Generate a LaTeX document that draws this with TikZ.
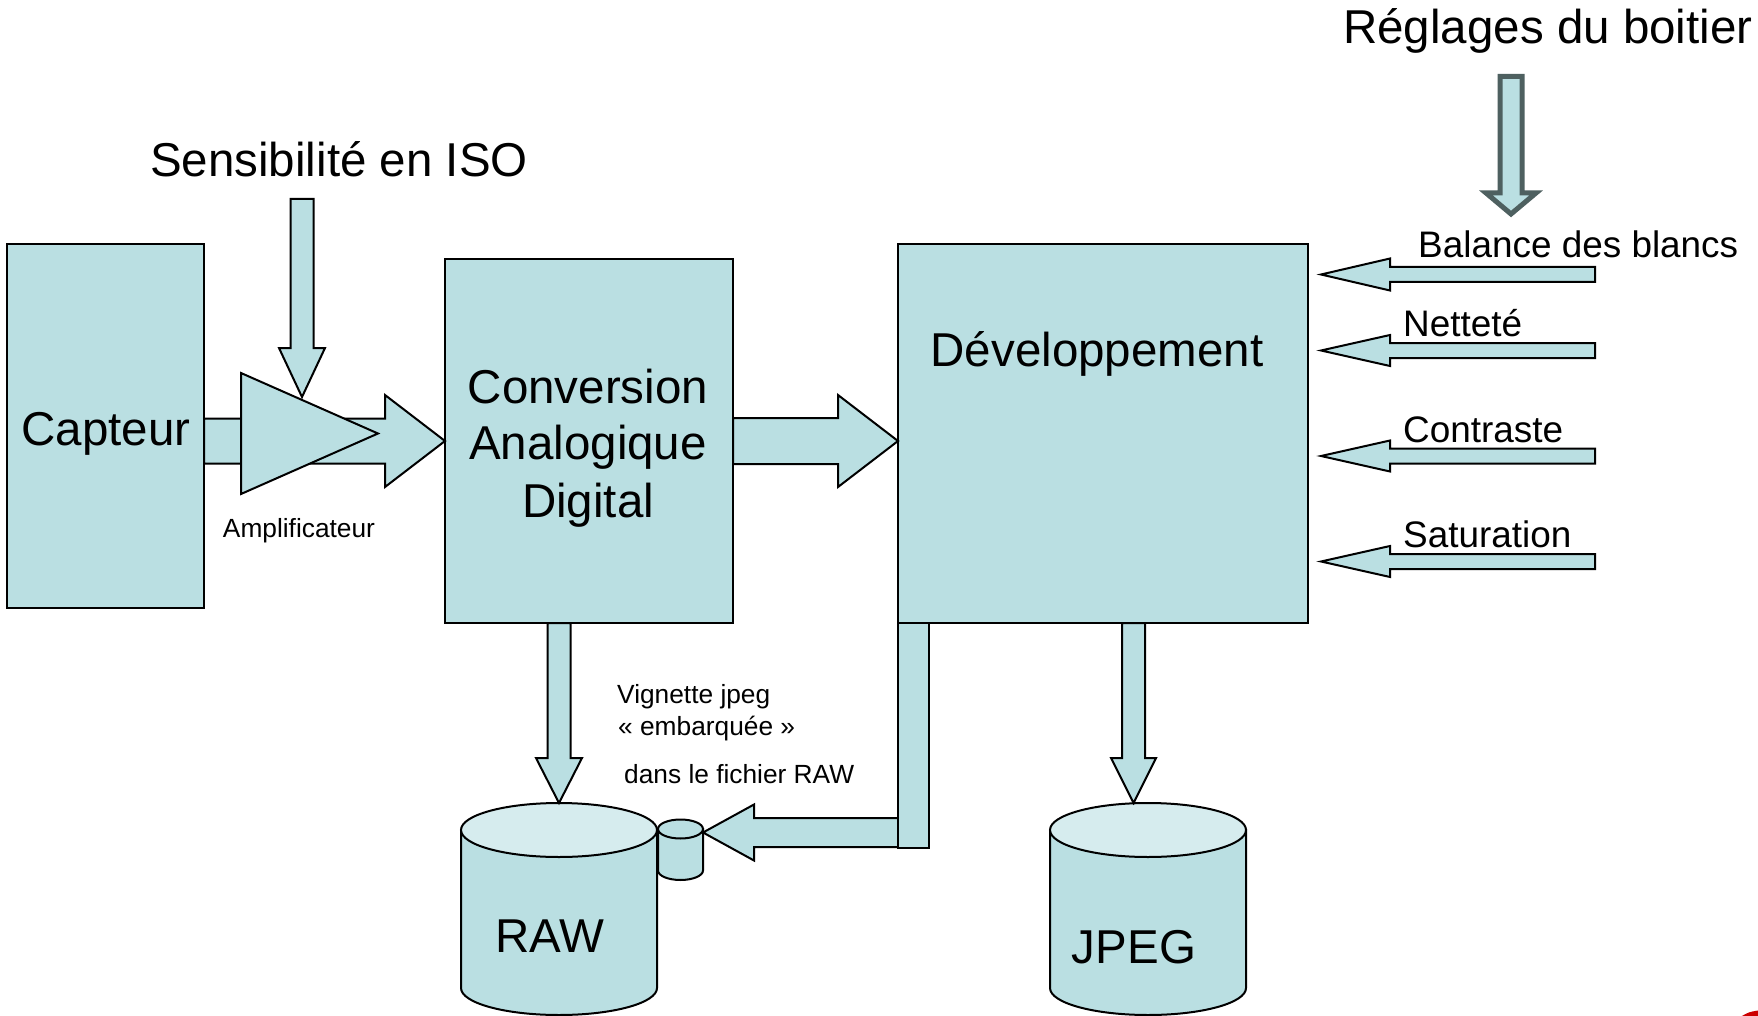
\documentclass[tikz,border=0pt]{standalone}
\usepackage{fontspec}
\setmainfont{Liberation Sans}
\usetikzlibrary{calc}

\definecolor{cfill}{RGB}{186,223,226}
\definecolor{ctop}{RGB}{214,236,238}
\definecolor{cslate}{RGB}{78,96,96}
\definecolor{cred}{RGB}{204,0,0}

\tikzset{
  box/.style={draw=black, fill=cfill, line width=2pt, rectangle, inner sep=0pt, outer sep=0pt},
  flow/.style={draw=black, fill=cfill, line width=2pt, line join=miter},
  setting/.style={draw=cslate, fill=cfill, line width=5pt, line join=miter},
  txt/.style={inner sep=0pt, anchor=base},
  txtw/.style={inner sep=0pt, anchor=base west},
  big/.style={font=\fontsize{47.5}{57}\selectfont},
  mid/.style={font=\fontsize{36.9}{44}\selectfont},
  small/.style={font=\fontsize{26.3}{32}\selectfont},
}

% Block arrow: [style]{tail}{tip}{shaft half width}{head half width}{head length}
\newcommand{\blockarrow}[6][]{%
  \draw[flow,#1] let \p1=(#2), \p2=(#3),
      \n1={veclen(\x2-\x1,\y2-\y1)},
      \n2={(\x2-\x1)/\n1}, \n3={(\y2-\y1)/\n1}
    in (\p2)
    -- ({\x2-#6*\n2-#5*\n3},{\y2-#6*\n3+#5*\n2})
    -- ({\x2-#6*\n2-#4*\n3},{\y2-#6*\n3+#4*\n2})
    -- ({\x1-#4*\n3},{\y1+#4*\n2})
    -- ({\x1+#4*\n3},{\y1-#4*\n2})
    -- ({\x2-#6*\n2+#4*\n3},{\y2-#6*\n3-#4*\n2})
    -- ({\x2-#6*\n2+#5*\n3},{\y2-#6*\n3-#5*\n2})
    -- cycle;}

% Storage drum: {centre x}{top centre y}{bottom centre y}{x radius}{y radius}{lid colour}
\newcommand{\drum}[6]{%
  \filldraw[flow] (#1-#4,#2) -- (#1-#4,#3)
    arc[start angle=180, end angle=360, x radius=#4pt, y radius=#5pt]
    -- (#1+#4,#2) -- cycle;
  \filldraw[flow, fill=#6] (#1,#2) ellipse[x radius=#4pt, y radius=#5pt];}

\begin{document}
\begin{tikzpicture}[x=1pt, y=-1pt]
\fill[white] (0,0) rectangle (1758,1016);
\useasboundingbox (0,0) rectangle (1758,1016);

% processing blocks
\node[box, minimum width=197, minimum height=364] (capteur) at (105.5,426) {};
\node[box, minimum width=288, minimum height=364] (conv) at (589,441) {};
\node[box, minimum width=410, minimum height=379] (dev) at (1103,433.5) {};

% anchor points for the free arrow ends
\coordinate (isoTail) at (302,199);
\coordinate (isoTip) at (302,397);
\coordinate (rawTop) at (559,803);
\coordinate (jpegTop) at (1133.5,803);
\coordinate (thumbTip) at (703,832.5);
\coordinate (dropTail) at (898,832.5);
\coordinate (setTail) at (1511,76.5);
\coordinate (setTip) at (1511,214);
\coordinate (wbTail) at (1595,274.5);   \coordinate (wbTip) at (1321,274.5);
\coordinate (shTail) at (1595,350.5);   \coordinate (shTip) at (1321,350.5);
\coordinate (coTail) at (1595,456);     \coordinate (coTip) at (1321,456);
\coordinate (saTail) at (1595,561.5);   \coordinate (saTip) at (1321,561.5);
\coordinate (ampTL) at (241,373);
\coordinate (ampBL) at (241,494);
\coordinate (ampTip) at (378,433.5);

% ISO gain input and amplifier
\blockarrow{isoTail}{isoTip}{11.5}{23}{49}
\blockarrow{capteur.east |- conv.west}{conv.west}{22.5}{46}{60}
\filldraw[flow] (ampTL) -- (ampTip) -- (ampBL) -- cycle;

% converter to development
\blockarrow{conv.east}{dev.west |- conv.east}{23}{46}{60}

% storage
\drum{559}{830}{988}{98}{27}{ctop}
\drum{1148}{830}{988}{98}{27}{ctop}
\drum{680.5}{829}{870.5}{22.5}{9.5}{cfill}

\blockarrow{rawTop |- conv.south}{rawTop}{11.5}{23}{45}
\blockarrow{jpegTop |- dev.south}{jpegTop}{11.5}{22.5}{45}

% embedded thumbnail path
\blockarrow{dropTail}{thumbTip}{14.5}{28}{51}
\filldraw[flow] (dev.south west) rectangle ++(31,225);

% camera settings
\blockarrow[setting]{setTail}{setTip}{11}{25}{21}
\blockarrow{wbTail}{wbTip}{7.5}{16}{69}
\blockarrow{shTail}{shTip}{7.5}{15.5}{69}
\blockarrow{coTail}{coTip}{7.5}{15.5}{69}
\blockarrow{saTail}{saTip}{7.5}{15.5}{69}

% corner mark
\fill[cred] (1741,1016.5) .. controls (1749,1012) .. (1758,1010.5) -- (1758,1016.5) -- cycle;

% labels
\node[txt, big] (capteurtxt) at (106,445) {Capteur};
\node[txt, big] (conv1) at (588,403) {Conversion};
\node[txt, big] (conv2) at (588,459) {Analogique};
\node[txt, big] (conv3) at (588,517) {Digital};
\node[txt, big] (devtxt) at (1097,366) {Développement};
\node[txt, big] (rawtxt) at (550,952) {RAW};
\node[txt, big] (jpegtxt) at (1134,963) {JPEG};
\node[txtw, big] (isotxt) at (150,177) {Sensibilité en ISO};
\node[txtw, big] (regtxt) at (1343,44) {Réglages du boitier};
\node[txt, small] (amptxt) at (299,537) {Amplificateur};
\node[txtw, small] (vig1) at (617,703) {Vignette jpeg};
\node[txtw, small] (vig2) at (618,735) {« embarquée »};
\node[txtw, small] (vig3) at (624,783) {dans le fichier RAW};
\node[txtw, mid] (wb) at (1418,258) {Balance des blancs};
\node[txtw, mid] (sharp) at (1403,336) {Netteté};
\node[txtw, mid] (contrast) at (1403,442) {Contraste};
\node[txtw, mid] (sat) at (1403,547) {Saturation};
\end{tikzpicture}
\end{document}
